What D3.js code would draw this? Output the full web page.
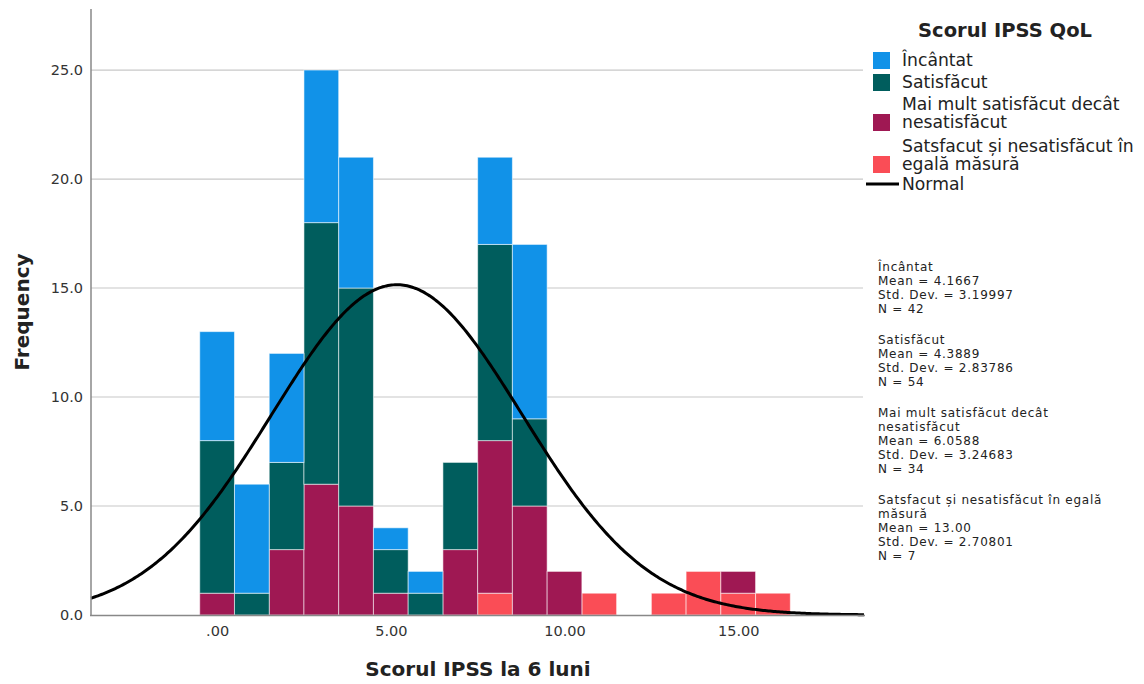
<!DOCTYPE html>
<html>
<head>
<meta charset="utf-8">
<script src="https://cdn.jsdelivr.net/npm/d3@7"></script>
<style>
  body { margin: 0; background: #fff; }
  svg { font-family: "DejaVu Sans", sans-serif; }
</style>
</head>
<body>
<svg width="1144" height="684"></svg>
<script>
'use strict';

// score bins (0..16) and counts per QoL group
var scores = [0, 1, 2, 3, 4, 5, 6, 7, 8, 9, 10, 11, 12, 13, 14, 15, 16];
var groups = ['Satsfacut și nesatisfăcut în egală măsură', 'Mai mult satisfăcut decât nesatisfăcut', 'Satisfăcut', 'Încântat'];
var colors = ['#fa4d56', '#9f1853', '#005d5d', '#1192e8'];
var countsRed     = [0, 0, 0, 0, 0, 0, 0, 0, 1, 0, 0, 1, 0, 1, 2, 1, 1];
var countsMagenta = [1, 0, 3, 6, 5, 1, 0, 3, 7, 5, 2, 0, 0, 0, 0, 1, 0];
var countsTeal    = [7, 1, 4, 12, 10, 2, 1, 4, 9, 4, 0, 0, 0, 0, 0, 0, 0];
var countsBlue    = [5, 5, 5, 7, 6, 1, 1, 0, 4, 8, 0, 0, 0, 0, 0, 0, 0];
var yTicks = [0, 5, 10, 15, 20, 25];
var xTicks = [0, 5, 10, 15];

// legend / stats text
var legendLabels = [['Încântat'], ['Satisfăcut'], ['Mai mult satisfăcut decât', 'nesatisfăcut'], ['Satsfacut și nesatisfăcut în', 'egală măsură']];
var legendColors = ['#1192e8', '#005d5d', '#9f1853', '#fa4d56'];
var statsBlocks = [
    ['Încântat', 'Mean = 4.1667', 'Std. Dev. = 3.19997', 'N = 42'],
    ['Satisfăcut', 'Mean = 4.3889', 'Std. Dev. = 2.83786', 'N = 54'],
    ['Mai mult satisfăcut decât', 'nesatisfăcut', 'Mean = 6.0588', 'Std. Dev. = 3.24683', 'N = 34'],
    ['Satsfacut și nesatisfăcut în egală', 'măsură', 'Mean = 13.00', 'Std. Dev. = 2.70801', 'N = 7']
];

var svg = d3.select('svg');

var x = d3.scaleLinear().domain([-3.63, 18.65]).range([91, 865]);
var y = d3.scaleLinear().domain([0, 27.8]).range([615, 9]);

// gridlines
svg.append('g').selectAll('line').data(yTicks.slice(1)).enter().append('line')
    .attr('x1', 91).attr('x2', 863)
    .attr('y1', function (d) { return y(d); }).attr('y2', function (d) { return y(d); })
    .attr('stroke', '#c8c8c8').attr('stroke-width', 1.2);

// stacked bars
var seriesCounts = [countsRed, countsMagenta, countsTeal, countsBlue];
var rows = scores.map(function (s, i) {
    var r = { score: s };
    groups.forEach(function (g, k) { r[g] = seriesCounts[k][i]; });
    return r;
});
var stacked = d3.stack().keys(groups)(rows);
var bw = x(1) - x(0);

var layers = svg.append('g').selectAll('g').data(stacked).enter().append('g')
    .attr('fill', function (d, i) { return colors[i]; });
layers.selectAll('rect').data(function (d) { return d.filter(function (p) { return p[1] > p[0]; }); })
    .enter().append('rect')
    .attr('x', function (d) { return x(d.data.score) - bw / 2; })
    .attr('width', bw)
    .attr('y', function (d) { return y(d[1]); })
    .attr('height', function (d) { return y(d[0]) - y(d[1]); })
    .attr('stroke', 'rgba(255,255,255,0.55)')
    .attr('stroke-width', 1);

// normal curve from the overall data
var n = 0, sum = 0, sumSq = 0;
scores.forEach(function (s, i) {
    var c = countsRed[i] + countsMagenta[i] + countsTeal[i] + countsBlue[i];
    n += c; sum += c * s; sumSq += c * s * s;
});
var mean = sum / n;
var sd = Math.sqrt((sumSq - n * mean * mean) / (n - 1));
var xs = d3.range(-3.63, 18.66, 0.05);
var line = d3.line()
    .x(function (d) { return x(d); })
    .y(function (d) { return y(n / (sd * Math.sqrt(2 * Math.PI)) * Math.exp(-0.5 * Math.pow((d - mean) / sd, 2))); });
svg.append('path').datum(xs).attr('d', line)
    .attr('fill', 'none').attr('stroke', '#000').attr('stroke-width', 3);

// axes
var yAxis = svg.append('g').attr('transform', 'translate(91,0)')
    .call(d3.axisLeft(y).tickValues(yTicks).tickFormat(d3.format('.1f')).tickSize(0).tickPadding(8));
yAxis.select('.domain').remove();
yAxis.selectAll('text').attr('font-size', 14.5).attr('fill', '#333').attr('font-family', '"DejaVu Sans", sans-serif');
svg.append('line').attr('x1', 91).attr('x2', 91).attr('y1', 9).attr('y2', 616)
    .attr('stroke', '#888').attr('stroke-width', 1.5);
svg.append('line').attr('x1', 90).attr('x2', 865).attr('y1', 615.5).attr('y2', 615.5)
    .attr('stroke', '#888').attr('stroke-width', 1.5);

var xAxis = svg.append('g').attr('transform', 'translate(0,615)')
    .call(d3.axisBottom(x).tickValues(xTicks)
        .tickFormat(function (d) { return d === 0 ? '.00' : d3.format('.2f')(d); })
        .tickSize(0).tickPadding(11));
xAxis.select('.domain').remove();
xAxis.selectAll('text').attr('font-size', 14.5).attr('fill', '#333').attr('font-family', '"DejaVu Sans", sans-serif');

// axis titles
svg.append('text').attr('x', 478).attr('y', 676).attr('text-anchor', 'middle')
    .attr('font-size', 20).attr('font-weight', 'bold').attr('fill', '#222').text('Scorul IPSS la 6 luni');
svg.append('text').attr('transform', 'translate(29,312) rotate(-90)').attr('text-anchor', 'middle')
    .attr('font-size', 20).attr('font-weight', 'bold').attr('fill', '#222').text('Frequency');

// legend
var lg = svg.append('g');
lg.append('text').attr('x', 1005).attr('y', 37).attr('text-anchor', 'middle')
    .attr('font-size', 19.5).attr('font-weight', 'bold').attr('fill', '#222').text('Scorul IPSS QoL');
var legendY = [60, 82, 104, 146];
legendLabels.forEach(function (lines, i) {
    var top = legendY[i];
    var swY = lines.length > 1 ? top + 10 : top - 8;
    lg.append('rect').attr('x', 873).attr('y', swY).attr('width', 17).attr('height', 17)
        .attr('fill', legendColors[i]);
    lines.forEach(function (t, j) {
        lg.append('text').attr('x', 902).attr('y', top + 6 + j * 18)
            .attr('font-size', 17.2).attr('fill', '#222').text(t);
    });
});
lg.append('line').attr('x1', 866).attr('x2', 899).attr('y1', 184).attr('y2', 184)
    .attr('stroke', '#000').attr('stroke-width', 3);
lg.append('text').attr('x', 902).attr('y', 190).attr('font-size', 17.2).attr('fill', '#222').text('Normal');

// stats text
var sy = 271;
statsBlocks.forEach(function (block) {
    block.forEach(function (t, j) {
        svg.append('text').attr('x', 878).attr('y', sy + j * 14)
            .attr('font-size', 12).attr('letter-spacing', 0.75).attr('fill', '#222').text(t);
    });
    sy += block.length * 14 + 17;
});
</script>
</body>
</html>
